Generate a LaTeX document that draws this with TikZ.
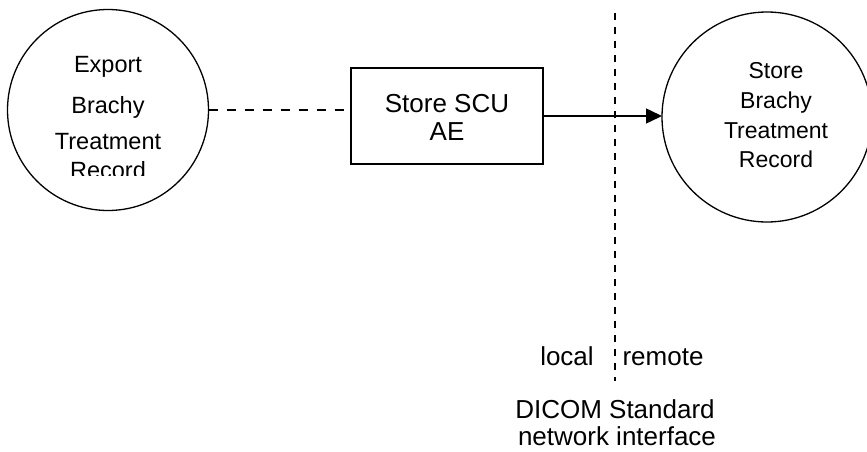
\documentclass[tikz,border=0pt]{standalone}
\usepackage{fontspec}
\setmainfont{Liberation Sans}
\usetikzlibrary{arrows.meta}
\begin{document}
\begin{tikzpicture}[x=1pt,y=-1pt,
  every node/.style={inner sep=0pt,outer sep=0pt},
  proc/.style={draw,circle,line width=1.3pt},
  aebox/.style={draw,line width=1.5pt},
  txt/.style={anchor=base,font=\fontsize{26}{30}\selectfont},
  ltxt/.style={anchor=base,font=\fontsize{23.5}{27}\selectfont},
  rtxt/.style={anchor=base,font=\fontsize{23}{27}\selectfont},
  assoc/.style={line width=2pt,dash pattern=on 9pt off 9pt},
  boundary/.style={line width=1.5pt,dash pattern=on 7pt off 7pt},
  msg/.style={line width=1.5pt,-{Triangle[length=16pt,width=15pt]}}]
\useasboundingbox (0,0) rectangle (867,452);

% application entity and the two processes
\node[proc,minimum size=201pt] (exp) at (108,110) {};
\node[proc,minimum size=210pt] (sto) at (767,117) {};
\node[aebox,minimum width=192pt,minimum height=96pt] (ae) at (447,116) {};

% process labels
\node[ltxt] (e1) at (108,73) {Export};
\node[ltxt] (e2) at (108,113) {Brachy};
\node[ltxt] (e3) at (108,149) {Treatment};
\begin{scope}
  \clip (0,0) rectangle (867,175);
  \node[ltxt] (e4) at (108,178) {Record};
\end{scope}
\node[rtxt] (s1) at (776,78) {Store};
\node[rtxt] (s2) at (776,108) {Brachy};
\node[rtxt] (s3) at (776,138) {Treatment};
\node[rtxt] (s4) at (776,167) {Record};
\node[txt] (a1) at (447,112) {Store SCU};
\node[txt] (a2) at (447,140) {AE};

% network boundary
\coordinate (bt) at (615,13);
\coordinate (bb) at (615,381);
\draw[boundary] (bt) -- (bb);
\node[txt] (loc) at (567,365) {local};
\node[txt] (rem) at (663,365) {remote};
\node[txt] (d1) at (615,418) {DICOM Standard};
\node[txt] (d2) at (617,445) {network interface};

% connectors
\draw[assoc] (exp.east |- 0,110) -- (ae.west |- 0,110);
\draw[msg] (ae.east) -- (ae.east -| sto.west);
\end{tikzpicture}
\end{document}
